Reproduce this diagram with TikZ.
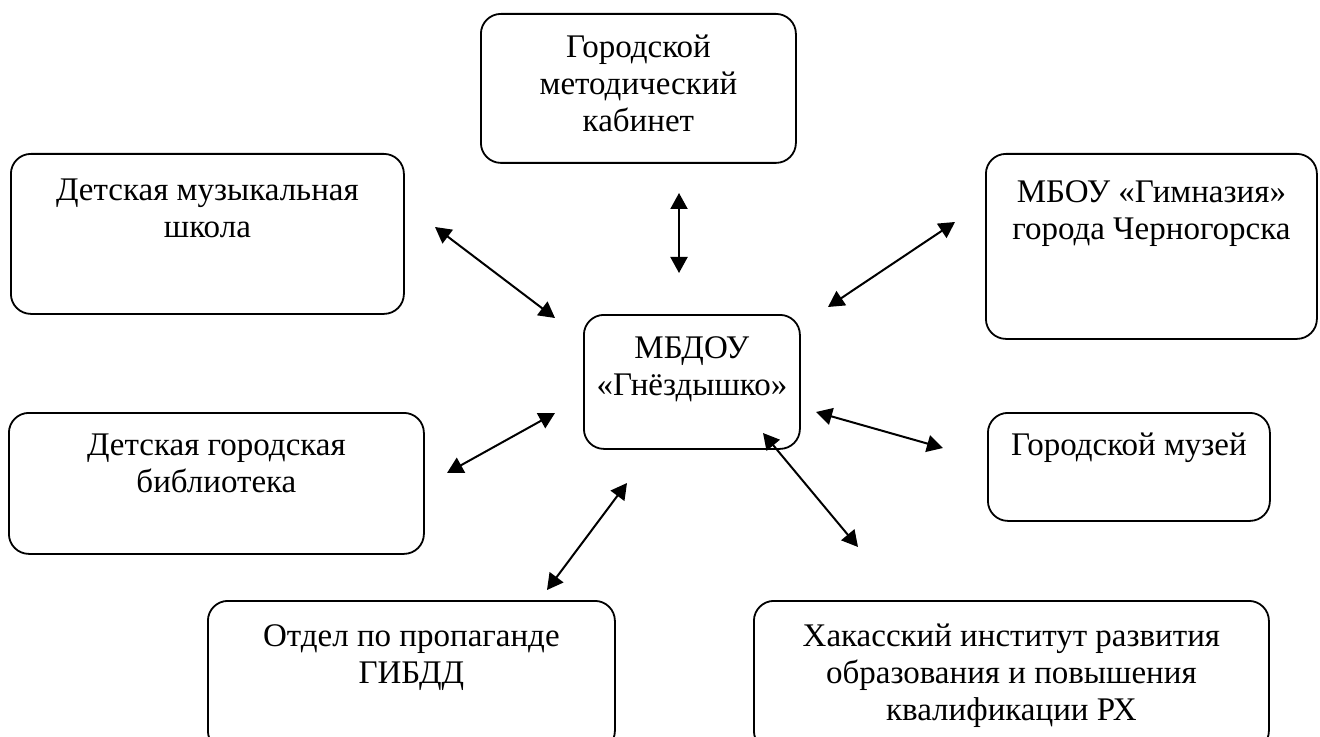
\documentclass[tikz,border=0pt]{standalone}
\usepackage{fontspec}
\setmainfont{Liberation Serif}
\usetikzlibrary{arrows.meta}

\tikzset{
  org/.style={draw, line width=0.9pt, rounded corners=10pt, anchor=north west,
    inner sep=0pt, align=flush center, font=\fontsize{16.5}{18.3}\selectfont},
  link/.style={{Triangle[length=8pt,width=8.5pt]}-{Triangle[length=8pt,width=8.5pt]}, line width=1pt}
}

\begin{document}
\begin{tikzpicture}[x=0.5pt, y=-0.5pt]
\useasboundingbox (0,0) rectangle (1320,737);

% organisations
\node[org, text width=157.5pt, text height=22pt, text depth=52.5pt] (cabinet) at (480,13) {Городской\\методический\\кабинет};
\node[org, text width=196.5pt, text height=23.5pt, text depth=56.5pt] (music) at (10,153) {Детская музыкальная\\школа};
\node[org, text width=165.5pt, text height=24.5pt, text depth=68pt] (gym) at (985,153) {МБОУ «Гимназия»\\города Черногорска};
\node[org, text width=108pt, text height=22pt, text depth=45pt] (dou) at (583,314) {МБДОУ\\«Гнёздышко»};
\node[org, text width=207.5pt, text height=21.5pt, text depth=49pt] (library) at (8,412) {Детская городская\\библиотека};
\node[org, text width=141pt, text height=21.5pt, text depth=32.5pt] (museum) at (987,412) {Городской музей};
\node[org, text width=203.5pt, text height=23pt, text depth=52pt] (gibdd) at (207,600) {Отдел по пропаганде\\ГИБДД};
\node[org, text width=257.5pt, text height=23pt, text depth=52pt] (hirro) at (753,600) {Хакасский институт развития\\образования и повышения\\квалификации РХ};

% arrow ends
\coordinate (music-a) at (435,227);
\coordinate (music-b) at (555,318);
\coordinate (cabinet-a) at (679,193);
\coordinate (cabinet-b) at (679,273);
\coordinate (gym-a) at (955,222);
\coordinate (gym-b) at (828,307);
\coordinate (library-a) at (555,413);
\coordinate (library-b) at (447,473);
\coordinate (museum-a) at (816,412);
\coordinate (museum-b) at (943,448);
\coordinate (hirro-a) at (763,433);
\coordinate (hirro-b) at (858,547);
\coordinate (gibdd-a) at (627,483);
\coordinate (gibdd-b) at (547,590);

\draw[link] (music-a) -- (music-b);
\draw[link] (cabinet-a) -- (cabinet-b);
\draw[link] (gym-a) -- (gym-b);
\draw[link] (library-a) -- (library-b);
\draw[link] (museum-a) -- (museum-b);
\draw[link] (hirro-a) -- (hirro-b);
\draw[link] (gibdd-a) -- (gibdd-b);
\end{tikzpicture}
\end{document}
